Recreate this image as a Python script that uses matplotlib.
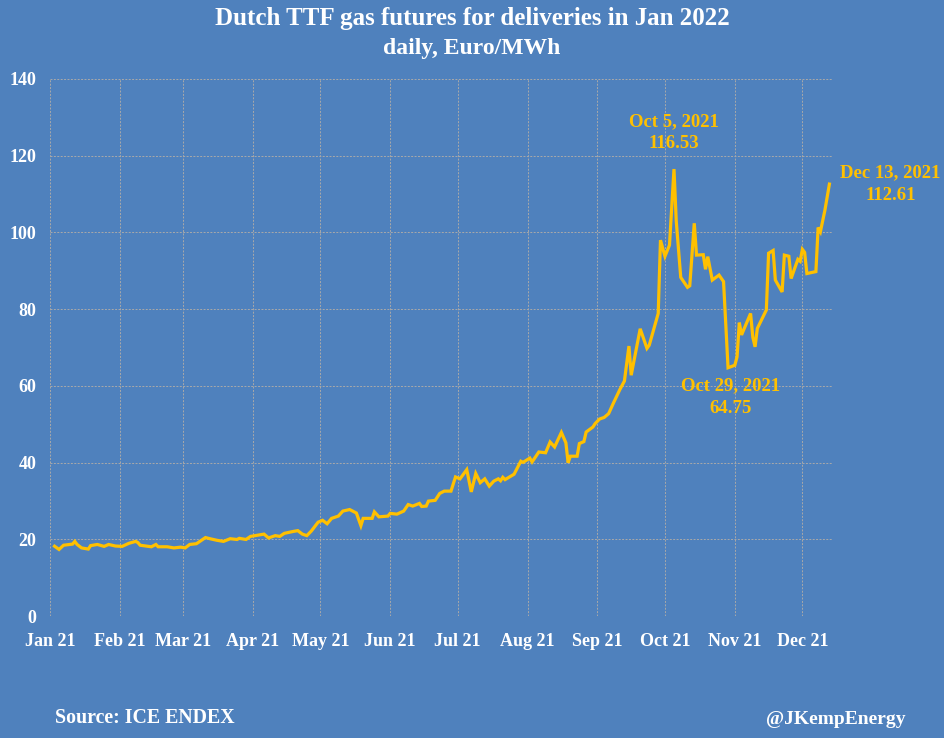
import matplotlib
matplotlib.use("Agg")
import matplotlib.pyplot as plt
import matplotlib.dates as mdates
import pandas as pd

# TTF Jan-22 contract, daily settle
dates = [
    "2021-01-03", "2021-01-05", "2021-01-07", "2021-01-11", "2021-01-12", "2021-01-13",
    "2021-01-15", "2021-01-18", "2021-01-19", "2021-01-22", "2021-01-25", "2021-01-27",
    "2021-01-30", "2021-02-02", "2021-02-05", "2021-02-08", "2021-02-09", "2021-02-10",
    "2021-02-15", "2021-02-17", "2021-02-18", "2021-02-22", "2021-02-25", "2021-02-28",
    "2021-03-02", "2021-03-04", "2021-03-07", "2021-03-11", "2021-03-13", "2021-03-16",
    "2021-03-19", "2021-03-22", "2021-03-25", "2021-03-26", "2021-03-29", "2021-03-31",
    "2021-04-06", "2021-04-08", "2021-04-11", "2021-04-13", "2021-04-15", "2021-04-19",
    "2021-04-21", "2021-04-23", "2021-04-25", "2021-04-27", "2021-04-30", "2021-05-02",
    "2021-05-04", "2021-05-06", "2021-05-09", "2021-05-11", "2021-05-14", "2021-05-17",
    "2021-05-19", "2021-05-20", "2021-05-24", "2021-05-25", "2021-05-27", "2021-05-31",
    "2021-06-01", "2021-06-04", "2021-06-07", "2021-06-09", "2021-06-11", "2021-06-14",
    "2021-06-15", "2021-06-17", "2021-06-18", "2021-06-21", "2021-06-23", "2021-06-25",
    "2021-06-28", "2021-06-30", "2021-07-02", "2021-07-05", "2021-07-07", "2021-07-09",
    "2021-07-11", "2021-07-13", "2021-07-15", "2021-07-17", "2021-07-19", "2021-07-20",
    "2021-07-21", "2021-07-22", "2021-07-26", "2021-07-29", "2021-07-30", "2021-08-02",
    "2021-08-03", "2021-08-06", "2021-08-09", "2021-08-11", "2021-08-13", "2021-08-16",
    "2021-08-18", "2021-08-19", "2021-08-20", "2021-08-23", "2021-08-24", "2021-08-26",
    "2021-08-27", "2021-08-30", "2021-08-31", "2021-09-02", "2021-09-04", "2021-09-06",
    "2021-09-08", "2021-09-11", "2021-09-13", "2021-09-15", "2021-09-16", "2021-09-20",
    "2021-09-23", "2021-09-24", "2021-09-28", "2021-09-29", "2021-10-01", "2021-10-03",
    "2021-10-05", "2021-10-06", "2021-10-08", "2021-10-11", "2021-10-12", "2021-10-14",
    "2021-10-15", "2021-10-18", "2021-10-19", "2021-10-20", "2021-10-22", "2021-10-25",
    "2021-10-27", "2021-10-29", "2021-11-01", "2021-11-02", "2021-11-03", "2021-11-04",
    "2021-11-08", "2021-11-09", "2021-11-10", "2021-11-11", "2021-11-15", "2021-11-16",
    "2021-11-18", "2021-11-19", "2021-11-22", "2021-11-23", "2021-11-25", "2021-11-26",
    "2021-11-29", "2021-11-30", "2021-12-01", "2021-12-02", "2021-12-03", "2021-12-07",
    "2021-12-08", "2021-12-09", "2021-12-11", "2021-12-13",
]
prices = [
    18.25, 17.4, 18.5, 18.8, 19.5, 18.7,
    17.8, 17.5, 18.4, 18.7, 18.2, 18.7,
    18.3, 18.2, 19.0, 19.5, 19.2, 18.5,
    18.1, 18.7, 18.1, 18.1, 17.8, 18.0,
    17.8, 18.7, 18.9, 20.5, 20.2, 19.8,
    19.5, 20.2, 20.0, 20.3, 20.0, 20.8,
    21.4, 20.4, 21.0, 20.8, 21.6, 22.1,
    22.3, 21.4, 21.0, 22.2, 24.5, 25.0,
    24.1, 25.5, 26.1, 27.4, 27.8, 26.9,
    23.6, 25.5, 25.5, 27.2, 25.9, 26.1,
    26.8, 26.6, 27.4, 29.1, 28.7, 29.4,
    28.6, 28.7, 30.0, 30.2, 32.0, 32.6,
    32.6, 36.3, 35.8, 38.2, 32.4, 37.2,
    34.8, 35.8, 33.9, 35.2, 35.8, 35.3,
    36.2, 35.6, 37.0, 40.4, 40.1, 41.2,
    40.2, 42.8, 42.6, 45.4, 44.1, 47.9,
    45.2, 40.0, 41.7, 41.7, 45.0, 45.5,
    48.0, 49.3, 50.2, 51.4, 51.8, 52.8,
    55.4, 59.1, 61.3, 70.4, 62.8, 74.9,
    69.8, 70.6, 78.9, 98.0, 93.8, 96.7,
    116.53, 103.0, 88.3, 85.7, 86.1, 102.4,
    94.1, 94.2, 90.4, 93.7, 87.6, 88.9,
    87.2, 64.75, 65.4, 67.6, 76.5, 73.3,
    78.9, 72.7, 70.2, 75.0, 79.8, 94.6,
    95.3, 87.6, 84.5, 94.1, 93.8, 88.0,
    93.0, 92.5, 95.6, 94.8, 89.3, 89.8,
    101.3, 100.2, 105.8, 112.61,
]
month_ticks = ["2021-%02d-01" % m for m in range(1, 13)]

bg = "#4F81BD"
gold = "#FFC000"
serif = ["Liberation Serif", "DejaVu Serif"]

df = pd.DataFrame({"date": pd.to_datetime(dates), "price": prices})

fig = plt.figure(figsize=(9.44, 7.38), dpi=100, facecolor=bg)
ax = fig.add_axes([0.053, 0.165, 0.828, 0.728], facecolor=bg)

ax.plot(df["date"], df["price"], color=gold, lw=2.3, solid_joinstyle="miter")

ax.set_xlim(pd.Timestamp("2021-01-01"), pd.Timestamp("2021-12-14"))
ax.set_ylim(0, 140)
ax.set_yticks(range(0, 141, 20))
ax.set_xticks(pd.to_datetime(month_ticks))
ax.xaxis.set_major_formatter(mdates.DateFormatter("%b %y"))

ax.grid(True, color="#A9A9A9", lw=0.7, ls=(0, (2, 1.5)))
ax.set_axisbelow(True)
for s in ax.spines.values():
    s.set_visible(False)
ax.tick_params(length=0, colors="white", labelsize=13)
ax.tick_params(axis="x", pad=12)
ax.tick_params(axis="y", pad=10)
for lab in ax.get_xticklabels() + ax.get_yticklabels():
    lab.set_fontfamily(serif)
    lab.set_fontweight("bold")

fig.text(0.5, 0.99, "Dutch TTF gas futures for deliveries in Jan 2022", ha="center", va="top",
         color="white", fontsize=18, fontweight="bold", family=serif)
fig.text(0.5, 0.949, "daily, Euro/MWh", ha="center", va="top",
         color="white", fontsize=17, fontweight="bold", family=serif)

ann = dict(color=gold, fontsize=13.5, fontweight="bold", family=serif, ha="center",
           linespacing=1.4)
ax.annotate("Oct 5, 2021\n116.53", xy=(pd.Timestamp("2021-10-05"), 116.53),
            xytext=(0, 12), textcoords="offset points", va="bottom", **ann)
ax.annotate("Oct 29, 2021\n64.75", xy=(pd.Timestamp("2021-10-29"), 64.75),
            xytext=(2, -7), textcoords="offset points", va="top", **ann)
ax.annotate("Dec 13, 2021\n112.61", xy=(pd.Timestamp("2021-12-13"), 112.61),
            xytext=(44, -14), textcoords="offset points", va="bottom", annotation_clip=False, **ann)

fig.text(0.058, 0.014, "Source: ICE ENDEX", ha="left", va="bottom", color="white",
         fontsize=14.3, fontweight="bold", family=serif)
fig.text(0.959, 0.014, "@JKempEnergy", ha="right", va="bottom", color="white",
         fontsize=14, fontweight="bold", family=serif)

fig.savefig("out.png", dpi=100, facecolor=bg)
